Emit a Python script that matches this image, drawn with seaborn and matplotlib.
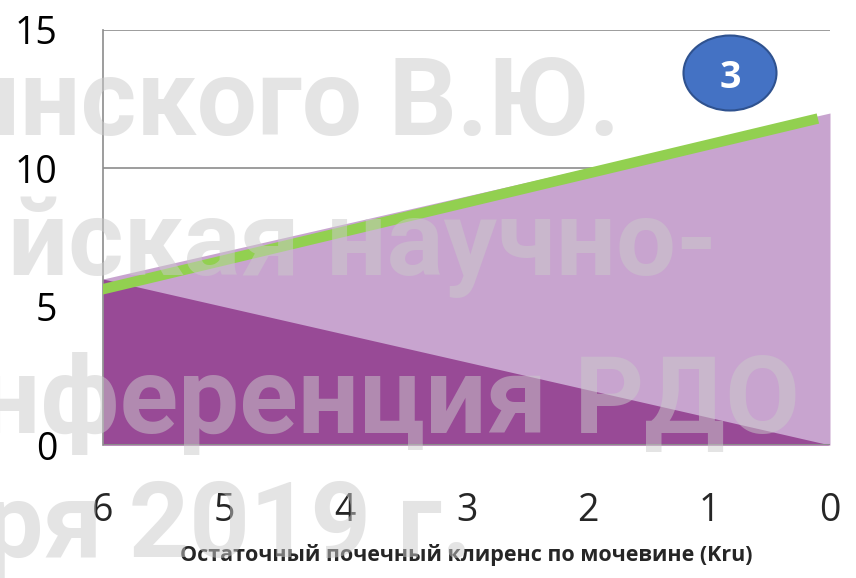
import seaborn as sns
import matplotlib.pyplot as plt
from matplotlib.patches import Ellipse

# data
kru = [6, 5, 4, 3, 2, 1, 0]
dark_vals = [6, 5, 4, 3, 2, 1, 0]
light_vals = [6, 7, 8, 9, 10, 11, 12]
green_kru = [6.03, 0.1]
green_vals = [5.6, 11.8]
yticks = [0, 5, 10, 15]
xlabel = "Остаточный почечный клиренс по мочевине (Kru)"
badge = "3"
watermark = ["инского В.Ю.", "йская научно-", "нференция РДО", "ря 2019 г."]

sns.set_style("white")
plt.rcParams['font.family'] = ['Open Sans', 'DejaVu Sans']

W, H = 856, 578
fig = plt.figure(figsize=(W / 100, H / 100), dpi=100)
ax = fig.add_axes([103 / W, 1 - 445 / H, (830 - 103) / W, (445 - 30) / H])

for y in [10, 15]:
    ax.axhline(y, color="#8c8c8c", lw=1.2, zorder=0)
ax.fill_between(kru, 0, light_vals, color="#c8a4cf", lw=0, zorder=1)
ax.fill_between(kru, 0, dark_vals, color="#984a96", lw=0, zorder=2)
sns.lineplot(x=green_kru, y=green_vals, color="#92d050", lw=7.5, ax=ax, zorder=3,
             solid_capstyle="butt")
ax.axhline(0, color="#8c8c8c", lw=1.5, zorder=4)

ax.set_xlim(6, 0)
ax.set_ylim(0, 15)
ax.set_xticks(kru)
ax.set_yticks(yticks)
ax.tick_params(axis="x", length=0, pad=34, labelsize=27, labelcolor="#262626")
ax.tick_params(axis="y", length=0, pad=33, labelsize=27, labelcolor="black")
for s in ["top", "right", "bottom"]:
    ax.spines[s].set_visible(False)
ax.spines["left"].set_color("#8c8c8c")
ax.spines["left"].set_linewidth(1.2)
ax.set_xlabel(xlabel, fontsize=15.5, fontweight="bold", labelpad=10)

# numbered badge
ell = Ellipse((730 / W, 1 - 73 / H), 93 / W, 75 / H, transform=fig.transFigure,
              facecolor="#4472c4", edgecolor="#2f528f", lw=1.5, zorder=10)
fig.add_artist(ell)
fig.text(730 / W, 1 - 73 / H, badge, color="white", fontsize=27, fontweight="bold",
         ha="center", va="center_baseline", zorder=11)

# watermark overlay: size each line so its visible part spans the same width
renderer = fig.canvas.get_renderer()
wm_font = ["Roboto", "DejaVu Sans"]
# (visible part, left px, right px, baseline px)
wm_fit = [("нского В.Ю.", 20, 620, 135),
          ("йская научно-", 7, 717, 275),
          ("ференция РДО", 40, 800, 433),
          ("я 2019 г.", 43, 472, 557)]
for txt, (sub, xl, xr, yb) in zip(watermark, wm_fit):
    probe = fig.text(0, 0, sub, fontsize=100, fontweight="bold", family=wm_font)
    w = probe.get_window_extent(renderer).width
    probe.remove()
    fs = 100 * (xr - xl) / w
    fig.text(xr / W, 1 - yb / H, txt, fontsize=fs, fontweight="bold", color="#cacaca",
             alpha=0.5, ha="right", va="baseline", zorder=20, family=wm_font)

fig.savefig("out.png", dpi=100)
